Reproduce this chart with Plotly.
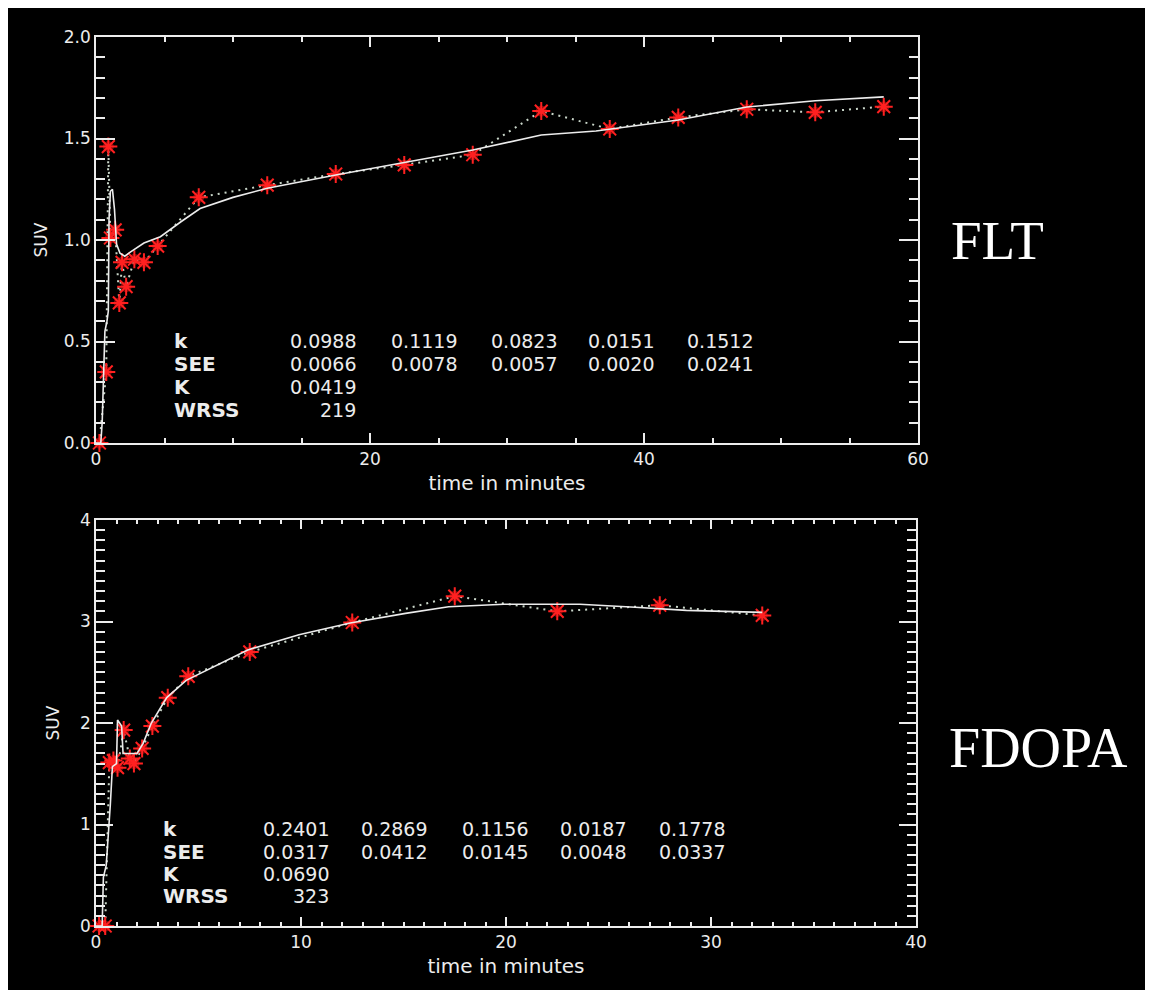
import plotly.graph_objects as go
from plotly.subplots import make_subplots

# ---------------- data ----------------
flt_t = [0.25, 0.75, 0.9, 1.05, 1.4, 1.7, 1.9, 2.2, 2.8, 3.5, 4.5, 7.5, 12.5, 17.5,
         22.5, 27.5, 32.5, 37.5, 42.5, 47.5, 52.5, 57.5]
flt_v = [0.0, 0.35, 1.46, 1.01, 1.05, 0.69, 0.89, 0.77, 0.905, 0.89, 0.97, 1.21, 1.27, 1.325,
         1.37, 1.42, 1.635, 1.547, 1.604, 1.644, 1.629, 1.657]
flt_fit_t = [0, 0.35, 0.45, 0.55, 0.65, 0.8, 0.9, 0.95, 1.05, 1.2, 1.35, 1.5, 1.75, 2.1, 2.5,
             3.5, 4.7, 6.2, 7.6, 10, 12.5, 17.5, 22.5, 27.5, 32.5, 36.5, 42.5, 47.5, 52.5, 57.5]
flt_fit_v = [0, 0, 0.1, 0.4, 0.55, 0.6, 0.65, 1.1, 1.24, 1.25, 1.15, 0.98, 0.935, 0.92, 0.94,
             0.985, 1.016, 1.09, 1.155, 1.21, 1.255, 1.32, 1.38, 1.443, 1.517, 1.537, 1.591,
             1.655, 1.686, 1.705]

fd_t = [0.15, 0.45, 0.65, 0.85, 1.05, 1.35, 1.65, 1.85, 2.25, 2.75, 3.5, 4.5, 7.5, 12.5,
        17.5, 22.5, 27.5, 32.5]
fd_v = [0.0, 0.0, 1.61, 1.63, 1.56, 1.93, 1.65, 1.60, 1.75, 1.97, 2.25, 2.46, 2.70, 2.99,
        3.25, 3.10, 3.16, 3.06]
fd_fit_t = [0, 0.3, 0.36, 0.5, 0.7, 0.8, 1.0, 1.05, 1.25, 1.32, 2.0, 2.3, 2.7, 3.45, 4.4,
            7.4, 9.9, 12.4, 15.1, 17.2, 19.9, 23.6, 26.3, 28.8, 32.5]
fd_fit_v = [0, 0, 0.48, 0.6, 1.2, 1.57, 1.6, 2.03, 1.97, 1.70, 1.70, 1.80, 2.0, 2.25, 2.42,
            2.72, 2.87, 2.985, 3.08, 3.146, 3.17, 3.17, 3.14, 3.11, 3.09]

row_labels = ["k", "SEE", "K", "WRSS"]
flt_table = [["0.0988", "0.1119", "0.0823", "0.0151", "0.1512"],
             ["0.0066", "0.0078", "0.0057", "0.0020", "0.0241"],
             ["0.0419"],
             ["219"]]
fd_table = [["0.2401", "0.2869", "0.1156", "0.0187", "0.1778"],
            ["0.0317", "0.0412", "0.0145", "0.0048", "0.0337"],
            ["0.0690"],
            ["323"]]
panel_names = ["FLT", "FDOPA"]

# ---------------- layout geometry (page pixels) ----------------
OFF = 8                      # default page body margin
W, H = 1153, 1002 - 2 * OFF
L, R, T, B = 96, 918, 37, 926   # plot-area edges in page pixels
PW, PH = R - L, B - T


def px(x):
    return (x - L) / PW


def py(y):
    return (B - y) / PH


top_dom = [py(443), 1.0]
bot_dom = [0.0, py(520)]

fig = make_subplots(rows=2, cols=1)

white = "#ececec"
dotcol = "#c9d6c9"
red = "#ff2020"


def add_panel(row, t, v, ft, fv):
    fig.add_trace(go.Scatter(x=t, y=v, mode="lines", line=dict(color=dotcol, width=2, dash="2px,5px"),
                             showlegend=False, hoverinfo="skip"), row=row, col=1)
    fig.add_trace(go.Scatter(x=t, y=v, mode="markers", cliponaxis=False,
                             marker=dict(symbol="circle", size=11, color="rgba(220,20,20,0.55)",
                                         line=dict(width=0)),
                             showlegend=False, hoverinfo="skip"), row=row, col=1)
    fig.add_trace(go.Scatter(x=t, y=v, mode="markers", cliponaxis=False,
                             marker=dict(symbol="asterisk", size=15, color=red,
                                         line=dict(color=red, width=2)),
                             showlegend=False), row=row, col=1)
    fig.add_trace(go.Scatter(x=ft, y=fv, mode="lines", line=dict(color=white, width=1.6),
                             showlegend=False), row=row, col=1)


add_panel(1, flt_t, flt_v, flt_fit_t, flt_fit_v)
add_panel(2, fd_t, fd_v, fd_fit_t, fd_fit_v)

tickfont = dict(family="DejaVu Sans", size=17, color=white)
titlefont = dict(family="DejaVu Sans", size=20, color=white)
suvfont = dict(family="DejaVu Sans", size=17, color=white)

common = dict(showgrid=False, zeroline=False, showline=True, linecolor=white, linewidth=1.6,
              mirror="allticks", ticks="inside", tickcolor=white, tickwidth=1.5,
              tickfont=tickfont)

fig.update_xaxes(common, row=1, col=1, range=[0, 60], dtick=20, tick0=0, ticklen=10,
                 minor=dict(dtick=5, ticks="inside", ticklen=5, tickcolor=white, tickwidth=1.5),
                 title=dict(text="time in minutes", font=titlefont, standoff=8),
                 domain=[0, 1])
fig.update_yaxes(common, row=1, col=1, range=[0, 2], dtick=0.5, tick0=0, ticklen=19,
                 tickformat=".1f",
                 minor=dict(dtick=0.1, ticks="inside", ticklen=9, tickcolor=white, tickwidth=1.5),
                 title=dict(text="SUV", font=suvfont, standoff=12),
                 domain=top_dom)
fig.update_xaxes(common, row=2, col=1, range=[0, 40], dtick=10, tick0=0, ticklen=9,
                 minor=dict(dtick=1, ticks="inside", ticklen=4, tickcolor=white, tickwidth=1.5),
                 title=dict(text="time in minutes", font=titlefont, standoff=8),
                 domain=[0, px(916)])
fig.update_yaxes(common, row=2, col=1, range=[0, 4], dtick=1, tick0=0, ticklen=17,
                 minor=dict(dtick=0.1, ticks="inside", ticklen=9, tickcolor=white, tickwidth=1.5),
                 title=dict(text="SUV", font=suvfont, standoff=16),
                 domain=bot_dom)

annotations = []


def add_table(labels, table, label_x, col_right, rows_y):
    for lab, vals, yy in zip(labels, table, rows_y):
        annotations.append(dict(x=px(label_x), y=py(yy), xref="paper", yref="paper",
                                text="<b>" + lab + "</b>", showarrow=False, xanchor="left",
                                yanchor="middle",
                                font=dict(family="DejaVu Sans", size=20, color=white)))
        for val, xr in zip(vals, col_right):
            annotations.append(dict(x=px(xr), y=py(yy), xref="paper", yref="paper",
                                    text=val, showarrow=False, xanchor="right", yanchor="middle",
                                    font=dict(family="DejaVu Sans", size=19, color=white)))


add_table(row_labels, flt_table, 172, [358, 459, 559, 656, 755], [341, 364, 387, 410])
add_table(row_labels, fd_table, 161, [331, 429, 530, 628, 727], [829, 852, 874, 896])

annotations.append(dict(x=px(949), y=py(240), xref="paper", yref="paper", text=panel_names[0],
                        showarrow=False, xanchor="left", yanchor="middle",
                        font=dict(family="Liberation Serif", size=55, color="white")))
annotations.append(dict(x=px(947), y=py(748), xref="paper", yref="paper", text=panel_names[1],
                        showarrow=False, xanchor="left", yanchor="middle",
                        font=dict(family="Liberation Serif", size=56, color="white")))

fig.update_layout(
    width=W, height=H,
    margin=dict(l=L - OFF, r=(OFF + W) - R, t=T - OFF, b=(OFF + H) - B, pad=0),
    paper_bgcolor="white",
    plot_bgcolor="rgba(0,0,0,0)",
    annotations=annotations,
    shapes=[dict(type="rect", xref="paper", yref="paper", layer="below",
                 x0=px(0), x1=px(1170), y0=py(990), y1=py(0),
                 fillcolor="black", line=dict(width=0))],
    showlegend=False,
)

fig.write_html("out.html")
